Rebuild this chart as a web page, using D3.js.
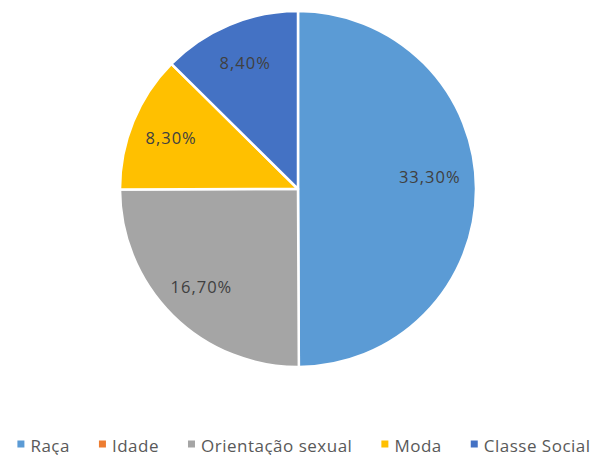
<!DOCTYPE html>
<html>
<head>
<meta charset="utf-8">
<script src="https://cdn.jsdelivr.net/npm/d3@7"></script>
<style>
  html, body { margin: 0; padding: 0; background: #fff; }
  svg { display: block; }
</style>
</head>
<body>
<svg id="chart" width="596" height="455"></svg>
<script>
// Share of each discrimination category
const categories = ["Raça", "Idade", "Orientação sexual", "Moda", "Classe Social"];
const values = [33.3, 0, 16.7, 8.3, 8.4];
const valueLabels = ["33,30%", "", "16,70%", "8,30%", "8,40%"];
const colors = ["#5B9BD5", "#ED7D31", "#A5A5A5", "#FFC000", "#4472C4"];

const svg = d3.select("#chart");
const cx = 298, cy = 189, radius = 178;
const font = "'Open Sans', sans-serif";

const pie = d3.pie().sort(null).value(d => d.value);
const arcs = pie(categories.map((c, i) => ({ name: c, value: values[i], label: valueLabels[i], color: colors[i] })));

const arc = d3.arc().innerRadius(0).outerRadius(radius);

const g = svg.append("g").attr("transform", `translate(${cx},${cy})`);

g.selectAll("path.slice")
  .data(arcs.filter(d => d.data.value > 0))
  .join("path")
  .attr("class", "slice")
  .attr("d", arc)
  .attr("fill", d => d.data.color)
  .attr("stroke", "#fff")
  .attr("stroke-width", 2.5)
  .attr("stroke-linejoin", "round");

// Value labels placed inside each slice
const bigLabelArc = d3.arc().innerRadius(radius * 0.74).outerRadius(radius * 0.74);
const smallLabelArc = d3.arc().innerRadius(radius * 0.77).outerRadius(radius * 0.77);

g.selectAll("text.val")
  .data(arcs.filter(d => d.data.value > 0))
  .join("text")
  .attr("class", "val")
  .attr("transform", d => {
    const share = (d.endAngle - d.startAngle) / (2 * Math.PI);
    const p = (share > 0.4 ? bigLabelArc : smallLabelArc).centroid(d);
    return `translate(${p[0]},${p[1] - (share > 0.4 ? 12 : 0)})`;
  })
  .attr("text-anchor", "middle")
  .attr("dominant-baseline", "central")
  .attr("font-family", font)
  .attr("font-size", 16.5)
  .attr("letter-spacing", 1)
  .attr("fill", "#404040")
  .text(d => d.data.label);

// Legend along the bottom
const legend = svg.append("g").attr("transform", "translate(0,445)");
const markerSize = 7, markerGap = 6, itemGap = 29, legendCenter = 304;

const items = legend.selectAll("g.item")
  .data(categories.map((c, i) => ({ name: c, color: colors[i] })))
  .join("g")
  .attr("class", "item");

items.append("rect")
  .attr("x", 0).attr("y", -markerSize / 2 - 1)
  .attr("width", markerSize).attr("height", markerSize)
  .attr("fill", d => d.color);

items.append("text")
  .attr("x", markerSize + markerGap)
  .attr("y", 0)
  .attr("dominant-baseline", "central")
  .attr("font-family", font)
  .attr("font-size", 17)
  .attr("letter-spacing", 0.5)
  .attr("fill", "#595959")
  .text(d => d.name);

const widths = [];
items.each(function () {
  widths.push(markerSize + markerGap + d3.select(this).select("text").node().getComputedTextLength());
});
const total = d3.sum(widths) + itemGap * (widths.length - 1);
let x = legendCenter - total / 2;
items.attr("transform", (d, i) => {
  const t = `translate(${x},0)`;
  x += widths[i] + itemGap;
  return t;
});
</script>
</body>
</html>
